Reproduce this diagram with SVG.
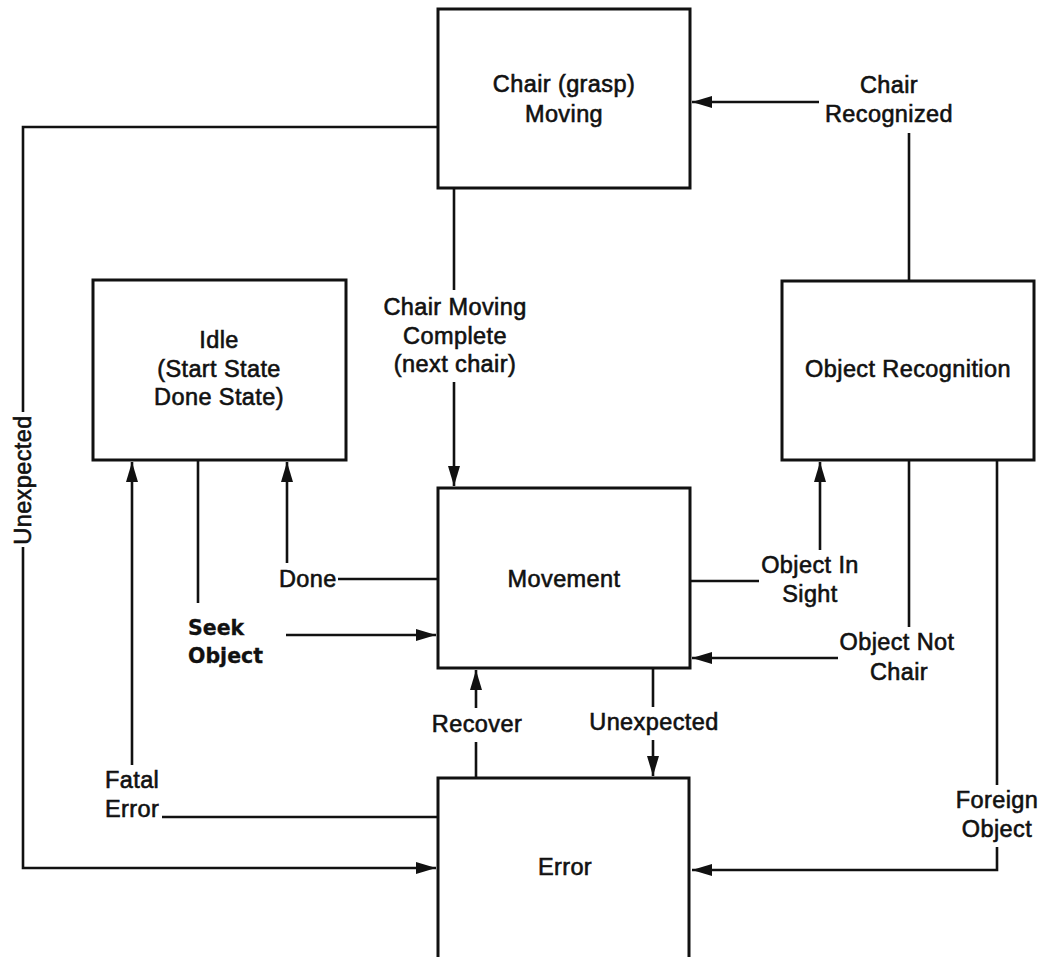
<svg xmlns="http://www.w3.org/2000/svg" width="1045" height="957" viewBox="0 0 1045 957">
  <defs>
    <style>
      .box { fill: #ffffff; stroke: #111111; stroke-width: 3; }
      .wire { fill: none; stroke: #111111; stroke-width: 2.6; }
      .lbl { font-family: "Liberation Sans", Arial, sans-serif; font-size: 23.5px; fill: #111111; stroke: #111111; stroke-width: 0.6; letter-spacing: 0.4px; }
      .mid { text-anchor: middle; }
      .bold { font-family: "DejaVu Sans", Verdana, sans-serif; font-weight: bold; font-size: 20.5px; stroke: #111111; stroke-width: 0.3; letter-spacing: 0; }
    </style>
    <marker id="head" markerUnits="userSpaceOnUse" markerWidth="20" markerHeight="12" refX="20" refY="6" orient="auto">
      <path d="M0,0 L20,6 L0,12 z" fill="#111111"/>
    </marker>
  </defs>

  <rect width="1045" height="957" fill="#ffffff"/>

  <!-- transitions -->
  <g id="connectors">
    <!-- Chair Recognized -->
    <path class="wire" d="M909,281 V133"/>
    <path class="wire" d="M819,102 H692" marker-end="url(#head)"/>
    <!-- Unexpected (chair moving -> error) -->
    <path class="wire" d="M438,127 H23 V412"/>
    <path class="wire" d="M23,547 V868 H436" marker-end="url(#head)"/>
    <!-- Fatal Error -->
    <path class="wire" d="M162,817 H438"/>
    <path class="wire" d="M132,765 V462" marker-end="url(#head)"/>
    <!-- Seek Object -->
    <path class="wire" d="M198,460 V603"/>
    <path class="wire" d="M286,635 H436" marker-end="url(#head)"/>
    <!-- Done -->
    <path class="wire" d="M438,579 H338"/>
    <path class="wire" d="M287,563 V462" marker-end="url(#head)"/>
    <!-- Chair Moving Complete -->
    <path class="wire" d="M454,188 V290"/>
    <path class="wire" d="M454,382 V486" marker-end="url(#head)"/>
    <!-- Object In Sight -->
    <path class="wire" d="M690,581 H759"/>
    <path class="wire" d="M820,550 V462" marker-end="url(#head)"/>
    <!-- Object Not Chair -->
    <path class="wire" d="M909,460 V627"/>
    <path class="wire" d="M838,658 H692" marker-end="url(#head)"/>
    <!-- Unexpected (movement -> error) -->
    <path class="wire" d="M653,668 V707"/>
    <path class="wire" d="M653,740 V776" marker-end="url(#head)"/>
    <!-- Recover -->
    <path class="wire" d="M476,778 V742"/>
    <path class="wire" d="M476,708 V670" marker-end="url(#head)"/>
    <!-- Foreign Object -->
    <path class="wire" d="M997,460 V785"/>
    <path class="wire" d="M997,847 V870 H692" marker-end="url(#head)"/>

    <!-- transition labels -->
    <text class="lbl mid" x="889" y="93">Chair</text>
    <text class="lbl mid" x="889" y="122">Recognized</text>
    <text class="lbl mid" transform="translate(31,480) rotate(-90)">Unexpected</text>
    <text class="lbl" x="105" y="788">Fatal</text>
    <text class="lbl" x="105" y="817">Error</text>
    <text class="lbl bold" x="188" y="635">Seek</text>
    <text class="lbl bold" x="188" y="663">Object</text>
    <text class="lbl" x="279" y="587">Done</text>
    <text class="lbl mid" x="455" y="315">Chair Moving</text>
    <text class="lbl mid" x="455" y="344">Complete</text>
    <text class="lbl mid" x="455" y="372">(next chair)</text>
    <text class="lbl mid" x="810" y="573">Object In</text>
    <text class="lbl mid" x="810" y="602">Sight</text>
    <text class="lbl mid" x="897" y="650">Object Not</text>
    <text class="lbl mid" x="899" y="680">Chair</text>
    <text class="lbl mid" x="477" y="732">Recover</text>
    <text class="lbl mid" x="654" y="730">Unexpected</text>
    <text class="lbl mid" x="997" y="808">Foreign</text>
    <text class="lbl mid" x="997" y="837">Object</text>
  </g>

  <!-- states -->
  <g id="chair-moving">
    <rect class="box" x="438" y="9" width="252" height="179"/>
    <text class="lbl mid" x="564" y="92">Chair (grasp)</text>
    <text class="lbl mid" x="564" y="122">Moving</text>
  </g>

  <g id="idle">
    <rect class="box" x="93" y="280" width="253" height="180"/>
    <text class="lbl mid" x="219" y="348">Idle</text>
    <text class="lbl mid" x="219" y="377">(Start State</text>
    <text class="lbl mid" x="219" y="405">Done State)</text>
  </g>

  <g id="object-recognition">
    <rect class="box" x="782" y="281" width="252" height="179"/>
    <text class="lbl mid" x="908" y="377">Object Recognition</text>
  </g>

  <g id="movement">
    <rect class="box" x="438" y="488" width="252" height="180"/>
    <text class="lbl mid" x="564" y="587">Movement</text>
  </g>

  <g id="error">
    <rect class="box" x="438" y="778" width="251" height="200"/>
    <text class="lbl mid" x="565" y="875">Error</text>
  </g>
</svg>
